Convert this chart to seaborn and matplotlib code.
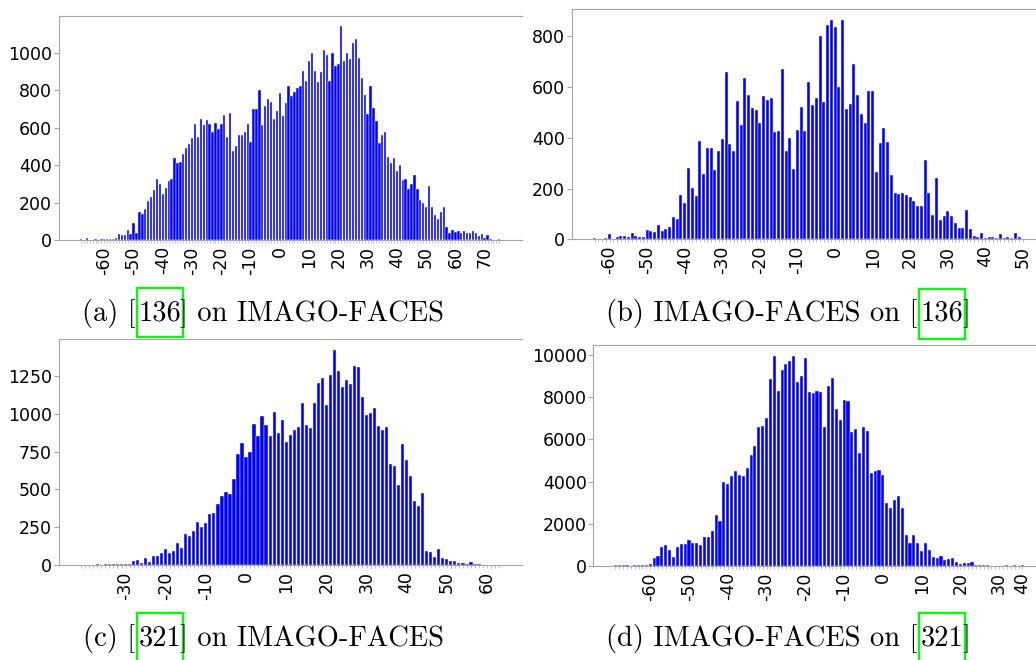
import matplotlib
matplotlib.use("Agg")
import matplotlib.pyplot as plt
from matplotlib.patches import Rectangle
from matplotlib.ticker import MultipleLocator
import pandas as pd
import seaborn as sns

# ---------------------------------------------------------------------------
# Histogram counts per (integer) bin
# ---------------------------------------------------------------------------
# (a) [136] on IMAGO-FACES
a_bins = list(range(-68, 76))
a_counts = [
    7, 2, 9, 2, 1, 3, 1, 3, 3, 3,                      # -68 .. -59
    8, 7, 10, 30, 27, 27, 55, 34, 90, 37,              # -58 .. -49
    147, 137, 163, 209, 227, 266, 323, 298, 248, 275,  # -48 .. -39
    317, 328, 436, 413, 417, 457, 489, 511, 544, 621,  # -38 .. -29
    550, 645, 612, 640, 617, 574, 626, 592, 621, 668,  # -28 .. -19
    550, 679, 473, 500, 562, 560, 578, 621, 521, 700,  # -18 .. -9
    697, 801, 612, 713, 750, 739, 644, 686, 785, 660,  # -8 .. 1
    730, 824, 771, 789, 809, 824, 904, 846, 957, 998,  # 2 .. 11
    901, 842, 894, 1016, 988, 851, 996, 931, 940, 1140,  # 12 .. 21
    957, 996, 966, 1051, 1073, 972, 865, 775, 674, 824,  # 22 .. 31
    704, 633, 520, 559, 576, 443, 413, 440, 367, 402,  # 32 .. 41
    319, 323, 271, 298, 349, 271, 213, 195, 177, 287,  # 42 .. 51
    174, 133, 112, 147, 177, 67, 39, 53, 44, 48,       # 52 .. 61
    39, 48, 35, 39, 50, 39, 21, 32, 9, 27,             # 62 .. 71
    4, 2, 1, 5,                                        # 72 .. 75
]

# (b) IMAGO-FACES on [136]
b_bins = list(range(-64, 51))
b_counts = [
    4, 1, 1, 4, 21, 1, 9, 14, 13, 8,                   # -64 .. -55
    25, 14, 9, 10, 37, 34, 29, 56, 33, 39,             # -54 .. -45
    49, 87, 79, 173, 144, 282, 203, 170, 387, 257,     # -44 .. -35
    361, 361, 273, 346, 395, 660, 376, 349, 546, 450,  # -34 .. -25
    637, 568, 519, 510, 459, 564, 548, 556, 422, 426,  # -24 .. -15
    670, 346, 400, 278, 430, 523, 425, 618, 531, 557,  # -14 .. -5
    800, 540, 846, 863, 838, 599, 863, 513, 535, 692,  # -4 .. 5
    567, 493, 460, 585, 585, 266, 380, 437, 384, 252,  # 6 .. 15
    181, 180, 181, 174, 167, 151, 131, 130, 311, 182,  # 16 .. 25
    94, 241, 76, 93, 110, 90, 66, 46, 46, 114,         # 26 .. 35
    41, 14, 9, 26, 5, 9, 9, 4, 21, 4,                  # 36 .. 45
    9, 5, 25, 8, 1,                                    # 46 .. 50
]

# (c) [321] on IMAGO-FACES  (empty bins in the left tail are not listed)
c_bins = [-43, -41, -39] + list(range(-38, 64))
c_counts = [
    1, 1, 1, 2, 4, 2, 4, 4, 4, 4,                      # -43 .. -32
    4, 4, 7, 24, 33, 15, 44, 22, 60, 60,               # -31 .. -22
    77, 104, 79, 93, 148, 115, 203, 192, 227, 284,     # -21 .. -12
    251, 278, 335, 344, 403, 456, 483, 470, 571, 734,  # -11 .. -2
    805, 714, 747, 930, 855, 983, 924, 853, 1010, 871,  # -1 .. 8
    959, 816, 860, 893, 911, 1069, 926, 906, 1069, 1201,  # 9 .. 18
    1235, 1060, 1257, 1422, 1285, 1179, 1224, 1197, 1318, 1307,  # 19 .. 28
    1109, 992, 1007, 1036, 919, 893, 913, 670, 653, 527,  # 29 .. 38
    800, 694, 586, 423, 390, 474, 90, 86, 55, 104,     # 39 .. 48
    49, 37, 29, 29, 13, 13, 9, 18, 9, 4,               # 49 .. 58
    2, 1, 1, 1, 1,                                     # 59 .. 63
]

# (d) IMAGO-FACES on [321]  (empty bins in the right tail are not listed)
d_bins = list(range(-69, 32)) + [33, 34, 36, 38, 40]
d_counts = [
    30, 30, 47, 47, 16, 30, 47, 47, 30, 79,                 # -69 .. -60
    378, 473, 899, 978, 741, 442, 899, 1025, 1057, 1230,    # -59 .. -50
    1088, 1088, 1009, 1388, 1388, 1656, 2413, 2129, 3959, 3880,  # -49 .. -40
    4259, 4495, 4290, 4274, 4653, 5237, 5678, 6562, 6640, 7003,  # -39 .. -30
    8864, 9953, 8265, 9274, 9558, 9700, 9937, 8707, 8991, 9858,  # -29 .. -20
    8249, 8170, 8297, 8218, 6593, 8517, 8912, 7429, 6909, 7855,  # -19 .. -10
    7792, 6356, 6467, 5331, 6562, 6404, 4385, 4495, 4543, 4306,  # -9 .. 0
    2997, 2760, 3107, 3328, 2729, 1467, 1088, 1467, 1104, 726,   # 1 .. 10
    1088, 757, 410, 379, 489, 284, 331, 363, 189, 110,      # 11 .. 20
    126, 126, 189, 47, 47, 47, 63, 16, 5, 16,               # 21 .. 30
    16, 30, 16, 30, 16, 47,                                 # 31 .. 40
]

captions = [
    ("(a) [", "136", "] on IMAGO-FACES"),
    ("(b) IMAGO-FACES on [", "136", "]"),
    ("(c) [", "321", "] on IMAGO-FACES"),
    ("(d) IMAGO-FACES on [", "321", "]"),
]
y_steps = [200, 200, 250, 2000]

# ---------------------------------------------------------------------------
# Figure layout (pixels, origin top-left)
# ---------------------------------------------------------------------------
W, H = 1036, 660
sns.set_style("ticks")
plt.rcParams["font.family"] = ["DejaVu Sans"]

fig = plt.figure(figsize=(W / 100, H / 100), dpi=100)
fig.patch.set_facecolor("white")

# axes rectangles: left, top, right, bottom
axes_px = [
    (58.7, 15.7, 521.5, 240.0),
    (571.5, 9.3, 1046.0, 239.3),
    (58.7, 339.3, 521.7, 565.0),
    (593.3, 345.3, 1044.5, 566.0),
]
# caption anchors: prefix right edge, number centre, suffix left edge, baseline
caption_px = [
    (135.5, 160.3, 180.5, 320.8),
    (917.0, 942.0, 962.0, 320.8),
    (135.5, 160.3, 180.5, 646.0),
    (917.0, 942.0, 962.0, 646.0),
]
# link frames: left, top, right, bottom
frame_px = [
    (137.0, 288.3, 183.3, 337.3),
    (919.0, 289.0, 965.0, 339.0),
    (137.0, 613.0, 183.3, 663.0),
    (918.5, 613.3, 965.0, 663.0),
]

spine_col = "#a6a6a6"
panels = [(a_bins, a_counts), (b_bins, b_counts), (c_bins, c_counts), (d_bins, d_counts)]


def fx(x):
    return x / W


def fy(y):
    return 1 - y / H


for (bins, counts), (l, t, r, b), step in zip(panels, axes_px, y_steps):
    ax = fig.add_axes([fx(l), fy(b), (r - l) / W, (b - t) / H])
    df = pd.DataFrame({"bin": bins, "count": counts})
    sns.barplot(data=df, x="bin", y="count", order=bins, color="#0000ff",
                saturation=1, width=0.8, edgecolor="white", linewidth=0.3,
                errorbar=None, ax=ax)
    n = len(bins)
    span = (n - 1) + 0.8
    ax.set_xlim(-0.4 - 0.05 * span, n - 1 + 0.4 + 0.05 * span)
    ax.set_ylim(0, max(counts) * 1.05)
    ax.set_xticks(range(n))
    ax.set_xticklabels([str(v) if v % 10 == 0 else "" for v in bins], rotation=90)
    ax.yaxis.set_major_locator(MultipleLocator(step))
    ax.set_xlabel("")
    ax.set_ylabel("")
    ax.set_facecolor("white")
    for side in ("left", "top", "bottom"):
        ax.spines[side].set_visible(True)
        ax.spines[side].set_color(spine_col)
        ax.spines[side].set_linewidth(0.8)
    ax.spines["right"].set_visible(False)
    ax.tick_params(axis="y", left=True, length=3.8, width=0.8, color=spine_col,
                   pad=1, labelsize=12.5, labelcolor="black")
    ax.tick_params(axis="x", bottom=True, length=2.0, width=0.5, color=spine_col,
                   pad=2.5, labelsize=12.5, labelcolor="black")

cap_font = dict(family=["cmr10", "DejaVu Serif"], fontsize=20.5, color="black",
                va="baseline")
for (pre, num, post), (xr, xc, xl, yb) in zip(captions, caption_px):
    fig.text(fx(xr), fy(yb), pre, ha="right", **cap_font)
    fig.text(fx(xc), fy(yb), num, ha="center", **cap_font)
    fig.text(fx(xl), fy(yb), post, ha="left", **cap_font)

for (l, t, r, b) in frame_px:
    fig.add_artist(Rectangle((fx(l), fy(b)), (r - l) / W, (b - t) / H,
                             transform=fig.transFigure, fill=False,
                             edgecolor="#00ff00", linewidth=1.6, clip_on=False))

fig.savefig("out.png", dpi=100, facecolor="white")
